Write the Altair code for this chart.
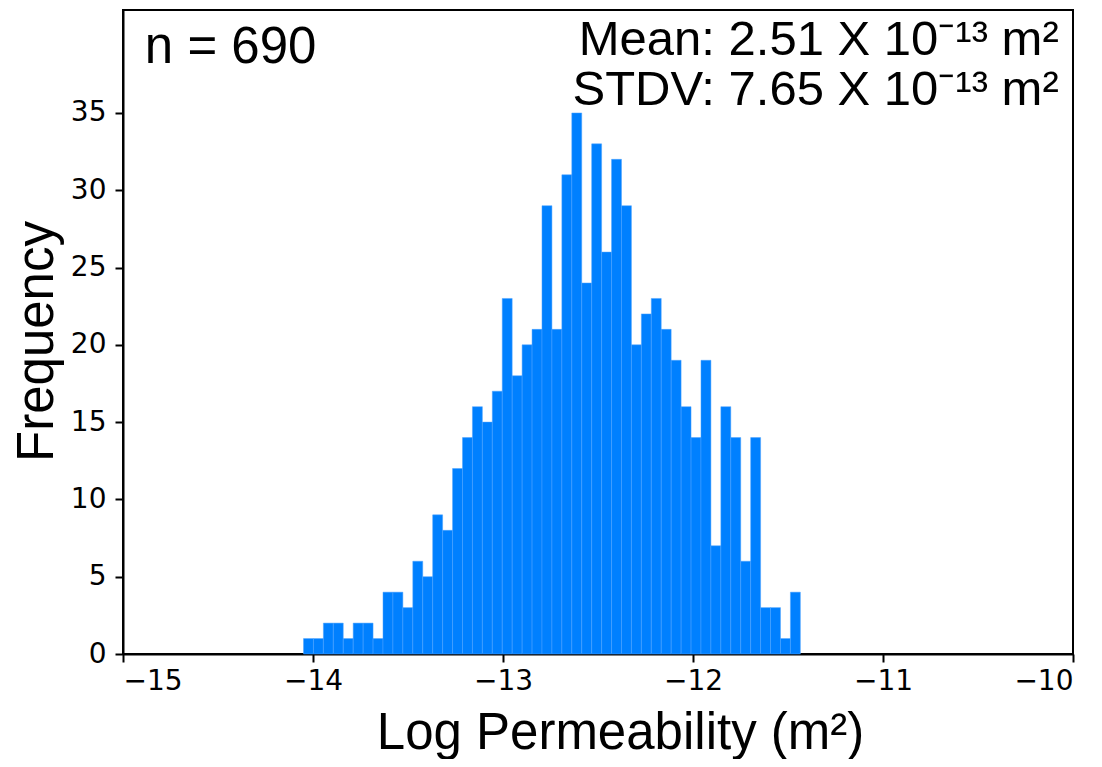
import altair as alt
import pandas as pd

# Histogram of log permeability (50 bins)
bin_start = -14.05
bin_width = 0.0523
counts = [1, 1, 2, 2, 1, 2, 2, 1, 4, 4,
          3, 6, 5, 9, 8, 12, 14, 16, 15, 17,
          23, 18, 20, 21, 29, 21, 31, 35, 24, 33,
          26, 32, 29, 20, 22, 23, 21, 19, 16, 14,
          19, 7, 16, 14, 6, 14, 3, 3, 1, 4]

x_ticks = [-15, -14, -13, -12, -11, -10]
y_ticks = [0, 5, 10, 15, 20, 25, 30, 35]

left_labels = ["n = 690"]
right_labels = ["Mean: 2.51 X 10\u207b\u00b9\u00b3 m\u00b2", "STDV: 7.65 X 10\u207b\u00b9\u00b3 m\u00b2"]

bars = pd.DataFrame({
    "lo": [bin_start + i * bin_width for i in range(len(counts))],
    "hi": [bin_start + (i + 1) * bin_width for i in range(len(counts))],
    "count": counts,
})

left_df = pd.DataFrame({"t": left_labels, "x": [-14.885], "y": [38.2]})
right_df = pd.DataFrame({"t": right_labels, "x": [-10.075, -10.075], "y": [38.75, 35.5]})

xscale = alt.Scale(domain=[-15, -10], nice=False, zero=False)
yscale = alt.Scale(domain=[0, 41.66], nice=False)

hist = alt.Chart(bars).mark_rect(color="#0080ff", stroke="#4da3ff", strokeWidth=0.5).encode(
    x=alt.X("lo:Q", scale=xscale,
            axis=alt.Axis(values=x_ticks, title="Log Permeability (m\u00b2)", grid=False,
                          labelExpr="datum.value < 0 ? '\u2212' + abs(datum.value) : '' + datum.value",
                          labelFont="DejaVu Sans", labelFontSize=28, labelColor="black",
                          labelPadding=5, tickSize=8, tickWidth=2, tickColor="black",
                          domainColor="black", domainWidth=2,
                          titleFont="Liberation Sans", titleFontSize=51, titleFontWeight="normal",
                          titleColor="black", titleX=497, titleY=94, titleBaseline="alphabetic",
                          titleAlign="center")),
    x2="hi:Q",
    y=alt.Y("count:Q", scale=yscale,
            axis=alt.Axis(values=y_ticks, format="d", title="Frequency", grid=False,
                          labelFont="DejaVu Sans", labelFontSize=28, labelColor="black",
                          labelPadding=9, tickSize=8, tickWidth=2, tickColor="black",
                          domainColor="black", domainWidth=2,
                          titleFont="Liberation Sans", titleFontSize=51, titleFontWeight="normal",
                          titleColor="black", titleX=-71, titleY=331, titleAngle=-90,
                          titleBaseline="alphabetic", titleAlign="center")),
    y2=alt.datum(0),
)

txt_left = alt.Chart(left_df).mark_text(
    align="left", baseline="alphabetic", font="Liberation Sans", fontSize=51, color="black"
).encode(x=alt.X("x:Q", scale=xscale), y=alt.Y("y:Q", scale=yscale), text="t:N")

txt_right = alt.Chart(right_df).mark_text(
    align="right", baseline="alphabetic", font="Liberation Sans", fontSize=49, color="black"
).encode(x=alt.X("x:Q", scale=xscale), y=alt.Y("y:Q", scale=yscale), text="t:N")

chart = alt.layer(hist, txt_left, txt_right).properties(
    width=950, height=644,
    autosize=alt.AutoSizeParams(type="none"),
    padding={"left": 115, "top": 2, "right": 21, "bottom": 105},
    background="white",
).configure_view(stroke="black", strokeWidth=2)

chart.save("out.html", embed_options={"renderer": "svg", "actions": False})
